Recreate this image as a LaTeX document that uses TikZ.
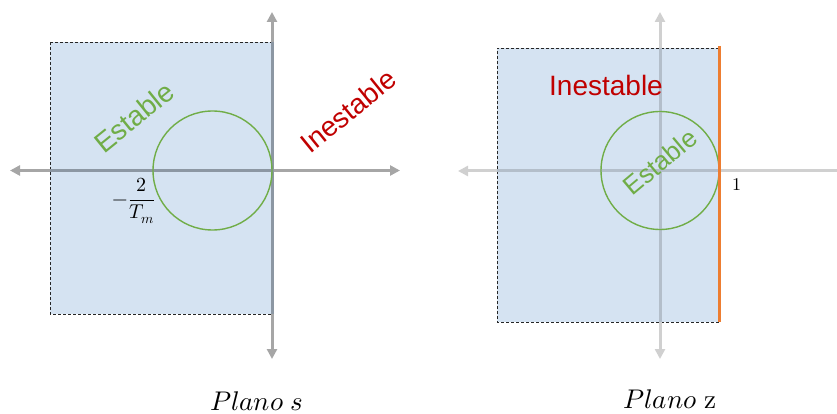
\documentclass[tikz,border=0pt]{standalone}
\usepackage{fontspec}
\setmainfont{Liberation Sans}
\usepackage{unicode-math}
\setmathfont{Latin Modern Math}
\usetikzlibrary{arrows.meta}

\definecolor{regionfill}{HTML}{D5E3F2}
\definecolor{stablegreen}{HTML}{70AD47}
\definecolor{unstablered}{HTML}{C00000}
\definecolor{borderorange}{HTML}{ED7D31}
\definecolor{axisgrey}{HTML}{A6A6A6}
\definecolor{axisgreyin}{HTML}{8C97A3}
\definecolor{axispale}{HTML}{D0D0D0}
\definecolor{axispalein}{HTML}{B3BECA}

\tikzset{
  tip/.tip={Triangle[length=10pt,width=10pt]},
  region/.style={draw=black!85, line width=0.9pt, dash pattern=on 3pt off 2pt},
  axisdark/.style={draw=axisgrey, line width=3pt},
  axislight/.style={draw=axispale, line width=3pt},
  ring/.style={draw=stablegreen, line width=1.4pt},
  label/.style={font=\fontsize{28}{30}\selectfont, inner sep=0pt},
  planetitle/.style={font=\fontsize{27}{30}\selectfont, inner sep=0pt, anchor=base},
  tick/.style={font=\fontsize{20}{24}\selectfont, inner sep=0pt},
}

\begin{document}
\begin{tikzpicture}[x=1pt, y=-1pt]
\useasboundingbox (0,0) rectangle (837,414);

% ---------- s-plane ----------
\fill[regionfill] (50,42) rectangle (272,314);
\draw[region] (50,42) rectangle (272,314);
\coordinate (sL) at (10,170.5);
\coordinate (sR) at (400,170.5);
\coordinate (sT) at (272,12);
\coordinate (sB) at (272,359);
\coordinate (sIn1) at (50,170.5);
\coordinate (sIn2) at (272,170.5);
\coordinate (sIn3) at (272,42);
\coordinate (sIn4) at (272,314);
\draw[axisdark, tip-tip] (sL) -- (sR);
\draw[axisdark, tip-tip] (sB) -- (sT);
% axis portions lying over the shaded region
\draw[draw=axisgreyin, line width=3pt] (sIn1) -- (sIn2);
\draw[draw=axisgreyin, line width=3pt] (sIn3) -- (sIn4);
\coordinate (sC) at (212.5,170.5);
\draw[ring] (sC) circle (59.5);
\node[label, text=stablegreen, rotate=39] (sstable) at (134,117) {Estable};
\node[label, text=unstablered, rotate=39] (sunstable) at (348,111) {Inestable};
\node[tick] (sfrac) at (134,201) {$-\dfrac{2}{T_m}$};
\node[planetitle] (stitle) at (257,410) {$Plano\ s$};

% ---------- z-plane ----------
\fill[regionfill] (497,48) rectangle (719,322);
\draw[region] (719,48) -- (497,48) -- (497,322) -- (719,322);
\coordinate (zL) at (458,171);
\coordinate (zR) at (840,171);
\coordinate (zT) at (660,12);
\coordinate (zB) at (660,359);
\coordinate (zIn1) at (497,171);
\coordinate (zIn2) at (719,171);
\coordinate (zIn3) at (660,48);
\coordinate (zIn4) at (660,322);
\draw[axislight, tip-] (zL) -- (zR);
\draw[axislight, tip-tip] (zB) -- (zT);
\draw[draw=axispalein, line width=3pt] (zIn1) -- (zIn2);
\draw[draw=axispalein, line width=3pt] (zIn3) -- (zIn4);
\coordinate (zC) at (660,170.5);
\draw[ring] (zC) circle (59);
\coordinate (oT) at (719,46);
\coordinate (oB) at (719,322);
\draw[draw=borderorange, line width=3pt] (oT) -- (oB);
\node[label, text=unstablered] (zunstable) at (606,85) {Inestable};
\node[label, text=stablegreen, rotate=40, font=\fontsize{26}{28}\selectfont] (zstable) at (660,162) {Estable};
\node[tick, font=\fontsize{18}{20}\selectfont] (zone) at (736.5,185) {$1$};
\node[planetitle] (ztitle) at (670,408) {$Plano\ \symup{z}$};
\end{tikzpicture}
\end{document}
